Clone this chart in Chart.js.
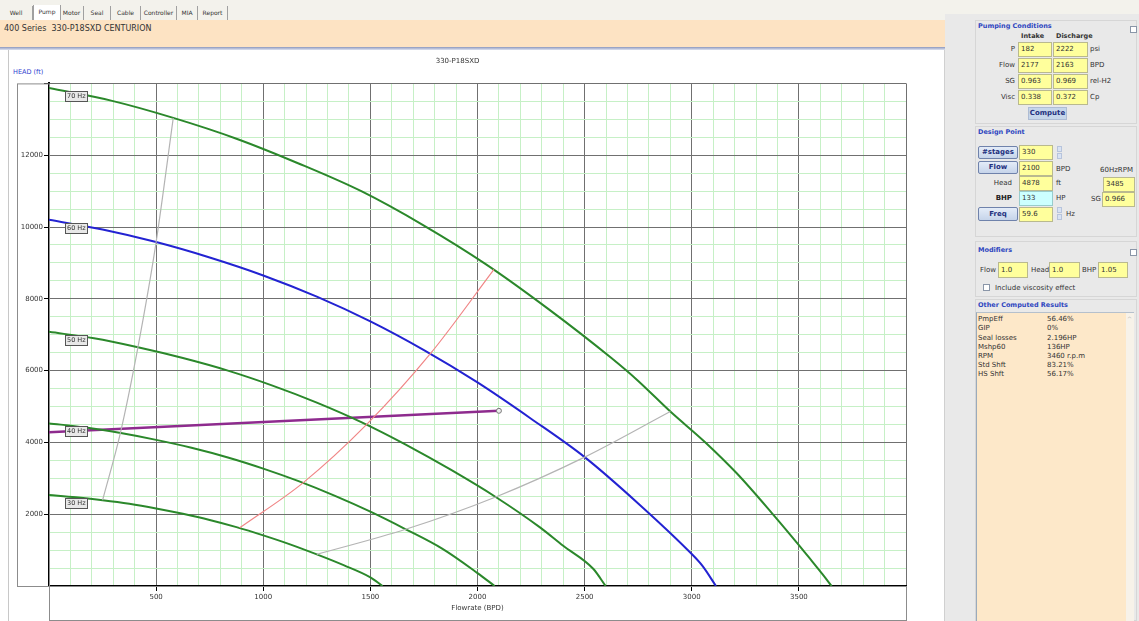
<!DOCTYPE html>
<html>
<head>
<meta charset="utf-8">
<script src="https://cdn.jsdelivr.net/npm/chart.js@4.4.1/dist/chart.umd.min.js"></script>
<style>
  body { margin:0; width:1139px; height:621px; overflow:hidden; position:relative; background:#fff; font-family:"DejaVu Sans", sans-serif; color:#333; }
  .a { position:absolute; white-space:nowrap; }
  .t { position:absolute; white-space:nowrap; font-size:7px; height:10px; line-height:10px; }
  .g { position:absolute; white-space:nowrap; font-size:6.5px; font-weight:bold; color:#2e46c0; height:10px; line-height:10px; }
  .b { position:absolute; box-sizing:border-box; background:#ffff9c; border:1px solid #b9b98f; font-size:7px; line-height:13px; padding-left:2px; color:#333; height:15px; }
  .btn { position:absolute; box-sizing:border-box; background:linear-gradient(#e4ecf8,#c6d4ea); border:1px solid #6f82ab; border-radius:2px; font-size:7px; font-weight:bold; color:#22307e; text-align:center; }
  .tab { position:absolute; top:6px; height:14px; line-height:14px; font-size:6px; color:#333; border-right:1px solid #a0a0a0; text-align:center; }
  .grp { position:absolute; left:975px; width:162px; box-sizing:border-box; border:1px solid #d6d6d6; }
  .spin { position:absolute; width:5px; height:6px; background:#d9e3f4; border:1px solid #b7c4dc; box-sizing:border-box; }
  .chk { position:absolute; width:7px; height:7px; background:#fff; border:1px solid #8a96a8; box-sizing:border-box; }
</style>
</head>
<body>
<!-- tab strip -->
<div class="a" style="left:0;top:0;width:1139px;height:20px;background:#f3f2ec;"></div>
<div class="tab" style="left:0;width:32px;">Well</div>
<div class="tab" style="left:33px;width:26px;background:#fff;border-left:1px solid #a0a0a0;top:5px;height:15px;">Pump</div>
<div class="tab" style="left:60px;width:23px;">Motor</div>
<div class="tab" style="left:84px;width:26px;">Seal</div>
<div class="tab" style="left:111px;width:29px;">Cable</div>
<div class="tab" style="left:141px;width:35px;">Controller</div>
<div class="tab" style="left:177px;width:20px;">MIA</div>
<div class="tab" style="left:198px;width:29px;">Report</div>

<!-- header -->
<div class="a" style="left:0;top:20px;width:945px;height:27px;background:#fde3c3;"></div>
<div class="a" style="left:4px;top:24px;font-size:8px;line-height:10px;color:#333;">400 Series&nbsp; 330-P18SXD CENTURION</div>
<div class="a" style="left:0;top:47px;width:945px;height:3px;background:linear-gradient(#8c97bd,#dfe3f0);"></div>

<!-- chart area -->
<div class="a" style="left:8px;top:50px;width:1px;height:571px;background:#c8c8c8;"></div>
<div class="a" style="left:944px;top:50px;width:1px;height:571px;background:#d0d0d0;"></div>
<div class="a" style="left:13px;top:67px;font-size:6.5px;line-height:10px;color:#2f3fd0;">HEAD (ft)</div>
<canvas id="pump-chart" width="945" height="571" style="position:absolute;left:0;top:50px;"></canvas>

<!-- right panel -->
<div class="a" style="left:945px;top:14px;width:194px;height:607px;background:#e9e9e9;"></div>
<div class="grp" style="top:20px;height:104px;"></div>
<div class="grp" style="top:126px;height:111px;"></div>
<div class="grp" style="top:241px;height:56px;"></div>
<div class="grp" style="top:299px;height:322px;"></div>

<div class="g" style="left:978px;top:21px;">Pumping Conditions</div>
<div class="chk" style="left:1130px;top:26px;"></div>
<div class="g" style="left:1021px;top:31px;color:#333;">Intake</div>
<div class="g" style="left:1056px;top:31px;color:#333;">Discharge</div>
<div class="t" style="left:975px;width:40px;text-align:right;top:44px;">P</div>
<div class="t" style="left:975px;width:40px;text-align:right;top:60px;">Flow</div>
<div class="t" style="left:975px;width:40px;text-align:right;top:76px;">SG</div>
<div class="t" style="left:975px;width:40px;text-align:right;top:92px;">Visc</div>
<div class="b" style="left:1018px;top:42px;width:34px;">182</div>
<div class="b" style="left:1053px;top:42px;width:35px;">2222</div>
<div class="b" style="left:1018px;top:58px;width:34px;">2177</div>
<div class="b" style="left:1053px;top:58px;width:35px;">2163</div>
<div class="b" style="left:1018px;top:74px;width:34px;">0.963</div>
<div class="b" style="left:1053px;top:74px;width:35px;">0.969</div>
<div class="b" style="left:1018px;top:90px;width:34px;">0.338</div>
<div class="b" style="left:1053px;top:90px;width:35px;">0.372</div>
<div class="t" style="left:1090px;top:44px;">psi</div>
<div class="t" style="left:1090px;top:60px;">BPD</div>
<div class="t" style="left:1090px;top:76px;">rel-H2</div>
<div class="t" style="left:1090px;top:92px;">Cp</div>
<div class="btn" style="left:1028px;top:107px;width:39px;height:13px;line-height:11px;background:#c6d6ea;border-color:#aebcd4;border-radius:0;">Compute</div>

<div class="g" style="left:978px;top:127px;">Design Point</div>
<div class="btn" style="left:978px;top:146px;width:40px;height:13px;line-height:11px;">#stages</div>
<div class="btn" style="left:978px;top:161px;width:40px;height:13px;line-height:11px;">Flow</div>
<div class="btn" style="left:978px;top:207px;width:40px;height:14px;line-height:12px;">Freq</div>
<div class="t" style="left:975px;width:37px;text-align:right;top:178px;">Head</div>
<div class="t" style="left:975px;width:37px;text-align:right;top:193px;font-weight:bold;color:#222;">BHP</div>
<div class="b" style="left:1019px;top:145px;width:34px;">330</div>
<div class="b" style="left:1019px;top:161px;width:34px;">2100</div>
<div class="b" style="left:1019px;top:176px;width:34px;">4878</div>
<div class="b" style="left:1019px;top:191px;width:34px;background:#ccffff;border-color:#9cc;">133</div>
<div class="b" style="left:1019px;top:207px;width:34px;">59.6</div>
<div class="spin" style="left:1057px;top:146px;"></div>
<div class="spin" style="left:1057px;top:153px;"></div>
<div class="spin" style="left:1057px;top:207px;"></div>
<div class="spin" style="left:1057px;top:214px;"></div>
<div class="t" style="left:1056px;top:164px;">BPD</div>
<div class="t" style="left:1056px;top:178px;">ft</div>
<div class="t" style="left:1056px;top:193px;">HP</div>
<div class="t" style="left:1066px;top:209px;">Hz</div>
<div class="t" style="left:1100px;top:165px;">60HzRPM</div>
<div class="b" style="left:1103px;top:177px;width:32px;">3485</div>
<div class="t" style="left:1091px;top:194px;">SG</div>
<div class="b" style="left:1102px;top:192px;width:33px;">0.966</div>

<div class="g" style="left:978px;top:245px;">Modifiers</div>
<div class="chk" style="left:1130px;top:249px;"></div>
<div class="t" style="left:980px;top:265px;">Flow</div>
<div class="b" style="left:998px;top:262px;width:30px;height:16px;line-height:14px;">1.0</div>
<div class="t" style="left:1031px;top:265px;">Head</div>
<div class="b" style="left:1049px;top:262px;width:31px;height:16px;line-height:14px;">1.0</div>
<div class="t" style="left:1082px;top:265px;">BHP</div>
<div class="b" style="left:1098px;top:262px;width:30px;height:16px;line-height:14px;">1.05</div>
<div class="chk" style="left:983px;top:284px;"></div>
<div class="t" style="left:995px;top:283px;">Include viscosity effect</div>

<div class="g" style="left:978px;top:300px;">Other Computed Results</div>
<div class="a" style="left:976px;top:312px;width:149px;height:309px;background:#fde8c9;border-left:1px solid #9aaabb;border-top:1px solid #b5c0cc;"></div>
<div class="a" style="left:1126px;top:312px;width:8px;height:309px;background:#f7f2e9;border-top:1px solid #b5c0cc;"></div>
<div class="a" style="left:1127px;top:315px;font-size:6px;color:#aaa;">^</div>
<div class="t" style="left:978px;top:314px;">PmpEff</div>
<div class="t" style="left:1047px;top:314px;">56.46%</div>
<div class="t" style="left:978px;top:323px;">GIP</div>
<div class="t" style="left:1047px;top:323px;">0%</div>
<div class="t" style="left:978px;top:333px;">Seal losses</div>
<div class="t" style="left:1047px;top:333px;">2.196HP</div>
<div class="t" style="left:978px;top:342px;">Mshp60</div>
<div class="t" style="left:1047px;top:342px;">136HP</div>
<div class="t" style="left:978px;top:351px;">RPM</div>
<div class="t" style="left:1047px;top:351px;">3460 r.p.m</div>
<div class="t" style="left:978px;top:360px;">Std Shft</div>
<div class="t" style="left:1047px;top:360px;">83.21%</div>
<div class="t" style="left:978px;top:369px;">HS Shft</div>
<div class="t" style="left:1047px;top:369px;">56.17%</div>

<script>
// head curves, flow in BPD, head in ft
var flow70 = [0, 290, 580, 875, 1165, 1460, 1750, 2040, 2330, 2625, 2745, 2900, 3060, 3210, 3375, 3500, 3560, 3610, 3653];
var head70 = [13870, 13520, 13040, 12460, 11770, 10990, 10040, 8960, 7720, 6350, 5740, 4860, 4020, 3140, 2025, 1140, 700, 330, 0];
var flow60 = [0, 250, 500, 750, 1000, 1250, 1500, 1750, 2000, 2250, 2500, 2750, 3000, 3050, 3113];
var head60 = [10200, 9930, 9580, 9150, 8650, 8060, 7370, 6570, 5670, 4660, 3590, 2300, 890, 560, 0];
var flow50 = [0, 210, 415, 625, 835, 1040, 1250, 1460, 1665, 1875, 2085, 2290, 2400, 2540, 2598];
var head50 = [7080, 6900, 6650, 6350, 6000, 5590, 5110, 4560, 3940, 3240, 2480, 1640, 1120, 480, 0];
var flow40 = [0, 165, 335, 500, 665, 835, 1000, 1165, 1335, 1500, 1665, 1835, 2000, 2080];
var head40 = [4530, 4420, 4260, 4070, 3850, 3580, 3270, 2920, 2510, 2070, 1580, 1040, 360, 0];
var flow30 = [0, 125, 250, 375, 500, 625, 750, 875, 1000, 1125, 1250, 1375, 1500, 1557];
var head30 = [2535, 2470, 2390, 2290, 2160, 2010, 1840, 1640, 1410, 1160, 880, 580, 240, 0];

// operating range and bep lines
var minFlow = [250, 333, 415, 500, 580];
var minHead = [2390, 4260, 6650, 9580, 13040];
var maxFlow = [1250, 1665, 2085, 2500, 2900];
var maxHead = [880, 1580, 2480, 3590, 4860];
var bepFlow = [890, 1187, 1483, 1780, 2077];
var bepHead = [1620, 2880, 4500, 6470, 8820];

// system line up to the design point
var sysFlow = [0, 2100];
var sysHead = [4280, 4880];

var xMax = 4000, yMax = 14000;

function pts(xs, ys) {
  return xs.map(function (x, i) { return { x: x, y: ys[i] }; });
}

var green = "#2b882b";
var majorGrid = "#707070";
var minorGrid = "#c6f0c6";

var hzLabels = {
  id: "hzLabels",
  afterDatasetsDraw: function (chart) {
    var ctx = chart.ctx, area = chart.chartArea;
    chart.data.datasets.forEach(function (ds, i) {
      if (!ds.hz) return;
      var y = Math.round(chart.getDatasetMeta(i).data[0].y + 8);
      var x = area.left + 16;
      ctx.save();
      ctx.fillStyle = "#e8e8e8";
      ctx.fillRect(x, y - 5, 23, 11);
      ctx.strokeStyle = "#555";
      ctx.lineWidth = 1;
      ctx.strokeRect(x + 0.5, y - 5 + 0.5, 22, 10);
      ctx.fillStyle = "#333";
      ctx.font = '6.5px "DejaVu Sans"';
      ctx.textBaseline = "middle";
      ctx.fillText(ds.hz, x + 2, y + 0.5);
      ctx.restore();
    });
  }
};

// panel boxes around the axes
var axisBoxes = {
  id: "axisBoxes",
  beforeDatasetsDraw: function (chart) {
    var ctx = chart.ctx, a = chart.chartArea;
    ctx.save();
    ctx.strokeStyle = "#8c8c8c";
    ctx.lineWidth = 1;
    ctx.strokeRect(a.left - 32 + 0.5, a.top + 0.5, 32, a.bottom - a.top);
    ctx.strokeRect(a.left + 0.5, a.bottom + 0.5, a.right - a.left, 34);
    ctx.restore();
  }
};

var ctx = document.getElementById("pump-chart").getContext("2d");
var pumpChart = new Chart(ctx, {
  type: "scatter",
  data: {
    datasets: [
      { data: pts(minFlow, minHead), borderColor: "#b4b4b4", borderWidth: 1.2 },
      { data: pts(maxFlow, maxHead), borderColor: "#b4b4b4", borderWidth: 1.2 },
      { data: pts(bepFlow, bepHead), borderColor: "#f08686", borderWidth: 1.2 },
      { hz: "70 Hz", data: pts(flow70, head70), borderColor: green, borderWidth: 2 },
      { hz: "50 Hz", data: pts(flow50, head50), borderColor: green, borderWidth: 2 },
      { hz: "40 Hz", data: pts(flow40, head40), borderColor: green, borderWidth: 2 },
      { hz: "30 Hz", data: pts(flow30, head30), borderColor: green, borderWidth: 2 },
      { hz: "60 Hz", data: pts(flow60, head60), borderColor: "#2323d2", borderWidth: 2 },
      {
        data: pts(sysFlow, sysHead), borderColor: "#8e2b8e", borderWidth: 2.5,
        pointRadius: function (c) { return c.dataIndex === sysFlow.length - 1 ? 2.5 : 0; },
        pointBackgroundColor: "#eee", pointBorderColor: "#777", pointBorderWidth: 1
      }
    ]
  },
  options: {
    responsive: false,
    animation: false,
    showLine: true,
    layout: { padding: { left: 9, right: 39, top: 0, bottom: 0 } },
    elements: { point: { radius: 0 }, line: { cubicInterpolationMode: "monotone", fill: false } },
    plugins: {
      legend: { display: false },
      tooltip: { enabled: false },
      title: {
        display: true, text: "330-P18SXD", color: "#333",
        font: { family: "DejaVu Sans", size: 7, weight: "normal" },
        padding: { top: 7, bottom: 18 }
      }
    },
    scales: {
      x: {
        type: "linear", min: 0, max: xMax,
        afterFit: function (s) { s.height = 35; },
        border: { color: "#000", width: 2 },
        grid: {
          color: function (c) { return c.tick.value % 500 === 0 ? majorGrid : minorGrid; },
          tickColor: function (c) { return c.tick.value % 500 === 0 ? "#000" : "rgba(0,0,0,0)"; },
          tickLength: 5
        },
        ticks: {
          stepSize: 100, autoSkip: false, maxRotation: 0, padding: 2,
          color: "#333", font: { family: "DejaVu Sans", size: 7 },
          callback: function (v) { return (v % 500 === 0 && v > 0 && v < xMax) ? v : ""; }
        },
        title: {
          display: true, text: "Flowrate (BPD)", color: "#333",
          font: { family: "DejaVu Sans", size: 7 },
          padding: { top: 0, bottom: 9 }
        }
      },
      y: {
        type: "linear", min: 0, max: yMax,
        afterFit: function (s) { s.width = 40; },
        border: { color: "#000", width: 2 },
        grid: {
          color: function (c) { return c.tick.value % 2000 === 0 ? majorGrid : minorGrid; },
          tickColor: function (c) { return c.tick.value % 2000 === 0 ? "#000" : "rgba(0,0,0,0)"; },
          tickLength: 5
        },
        ticks: {
          stepSize: 500, autoSkip: false, padding: 1,
          color: "#333", font: { family: "DejaVu Sans", size: 7 },
          callback: function (v) { return (v % 2000 === 0 && v > 0 && v < yMax) ? v : ""; }
        }
      }
    }
  },
  plugins: [axisBoxes, hzLabels]
});
</script>
</body>
</html>
